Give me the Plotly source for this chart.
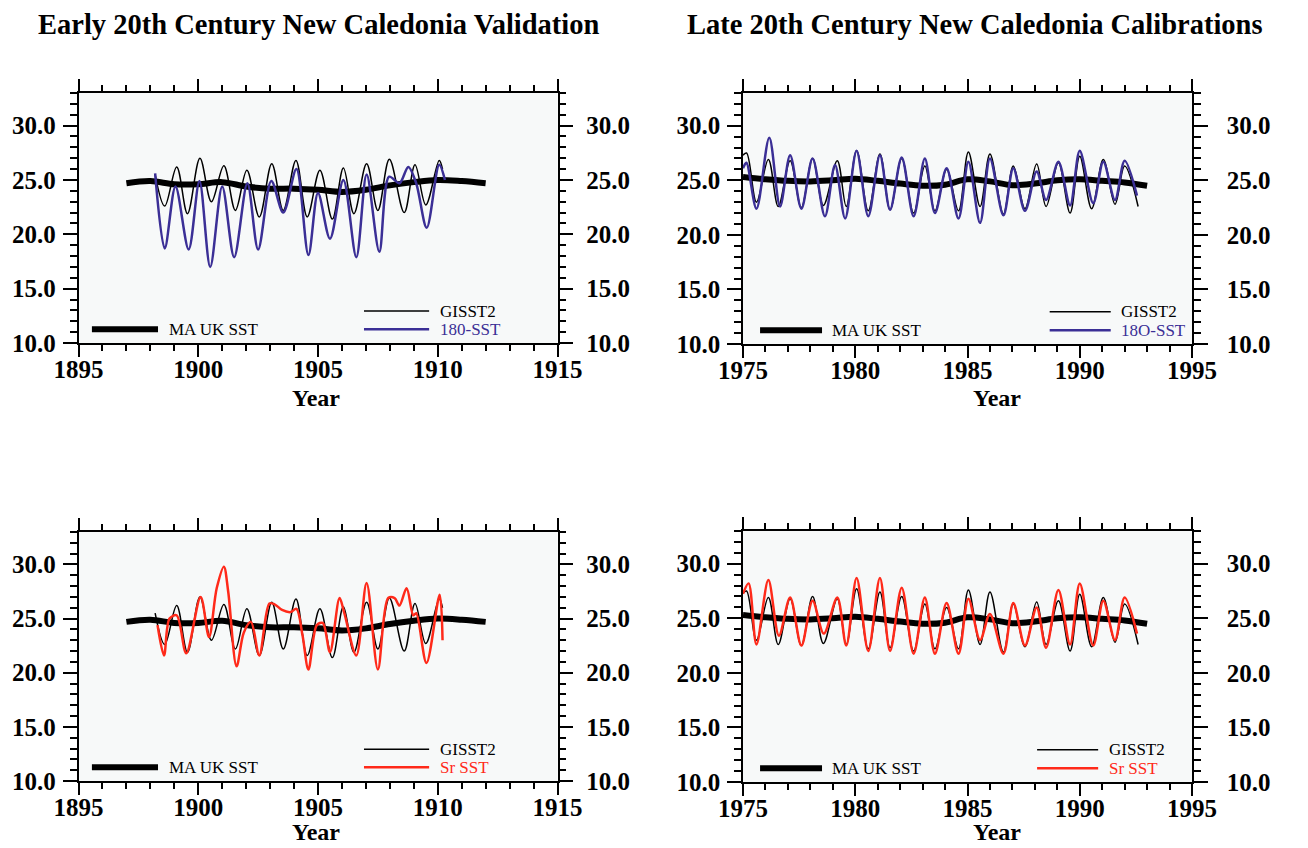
import plotly.graph_objects as go

# ---------------- data ----------------
# Moving-average UK SST (early period)
ma_early_years = [1897, 1898, 1899, 1900, 1901, 1902, 1903, 1904, 1905, 1906, 1907, 1908, 1909, 1910, 1911, 1912]
ma_early = [24.7, 24.9, 24.6, 24.6, 24.8, 24.4, 24.2, 24.2, 24.1, 23.9, 24.1, 24.5, 24.8, 25.0, 24.9, 24.7]

# GISST2 (early period)
gisst_early_years = [1898.2, 1898.6, 1899.1, 1899.55, 1900.07, 1900.55, 1901.07, 1901.55, 1902.03, 1902.55,
                     1903.07, 1903.55, 1904.08, 1904.55, 1905.08, 1905.6, 1906.06, 1906.5, 1907.03, 1907.5,
                     1907.98, 1908.6, 1909.05, 1909.5, 1910.06, 1910.2]
gisst_early = [25.5, 22.6, 26.2, 21.9, 27.0, 23.0, 26.3, 22.2, 25.9, 21.6,
               26.5, 22.2, 26.8, 21.6, 25.9, 21.4, 26.1, 21.9, 26.5, 22.2,
               26.9, 22.0, 26.4, 22.7, 26.8, 26.0]

# 18O-derived SST (early period)
o18_early_years = [1898.2, 1898.6, 1899.05, 1899.6, 1900.05, 1900.5, 1901.0, 1901.5, 1902.05, 1902.5,
                   1903.05, 1903.55, 1904.1, 1904.6, 1905.0, 1905.5, 1906.06, 1906.6, 1907.03, 1907.56,
                   1907.97, 1908.4, 1908.77, 1909.1, 1909.54, 1910.06, 1910.3]
o18_early = [25.6, 18.7, 24.4, 18.6, 24.9, 17.0, 24.4, 17.9, 24.7, 18.6,
             24.9, 22.0, 26.0, 18.1, 23.8, 19.6, 25.0, 17.9, 25.5, 18.4,
             25.3, 24.7, 26.2, 24.7, 20.6, 26.4, 25.0]

# Sr/Ca-derived SST (early period)
sr_early_years = [1898.3, 1898.57, 1898.8, 1899.1, 1899.5, 1900.1, 1900.45, 1900.77, 1901.07, 1901.25,
                  1901.6, 1901.9, 1902.2, 1902.55, 1902.97, 1903.2, 1903.5, 1903.85, 1904.1, 1904.35,
                  1904.6, 1904.95, 1905.2, 1905.5, 1905.9, 1906.1, 1906.6, 1907.03, 1907.5, 1907.93,
                  1908.2, 1908.4, 1908.7, 1908.98, 1909.1, 1909.53, 1910.08, 1910.2]
sr_early = [24.4, 21.6, 25.0, 25.3, 21.8, 27.0, 23.3, 27.8, 29.8, 27.5,
            20.6, 23.7, 24.7, 21.6, 26.4, 26.3, 25.8, 25.6, 25.9, 23.5,
            20.3, 24.4, 24.6, 21.9, 26.9, 25.5, 21.6, 28.3, 20.3, 26.9,
            26.9, 26.2, 27.8, 25.3, 25.5, 20.9, 27.2, 23.0]

# Moving-average UK SST (late period)
ma_late_years = [1975, 1976, 1977, 1978, 1979, 1980, 1981, 1982, 1983, 1984,
                 1985, 1986, 1987, 1988, 1989, 1990, 1991, 1992, 1993]
ma_late = [25.3, 25.1, 24.95, 24.9, 25.0, 25.15, 24.95, 24.7, 24.5, 24.6,
           25.1, 24.9, 24.55, 24.7, 25.0, 25.1, 24.95, 24.8, 24.5]

# GISST2 (late period)
gisst_late_years = [1975.0, 1975.16, 1975.6, 1976.13, 1976.57, 1977.1, 1977.6, 1978.1, 1978.58, 1979.2,
                    1979.6, 1980.06, 1980.58, 1981.1, 1981.55, 1982.07, 1982.6, 1983.1, 1983.55, 1984.07,
                    1984.6, 1985.04, 1985.56, 1986.0, 1986.6, 1987.04, 1987.56, 1988.08, 1988.5, 1989.05,
                    1989.57, 1990.0, 1990.53, 1991.05, 1991.57, 1992.0, 1992.6]
gisst_late = [27.3, 27.5, 23.0, 26.9, 22.6, 26.8, 22.5, 27.0, 22.7, 26.8,
              22.6, 27.7, 22.2, 27.4, 22.3, 27.0, 22.0, 26.3, 22.2, 26.0,
              22.2, 27.6, 22.6, 27.4, 21.9, 26.3, 22.4, 26.5, 22.6, 26.6,
              22.0, 27.2, 22.4, 26.9, 22.8, 26.3, 22.6]

# 18O-derived SST (late period)
o18_late_years = [1975.0, 1975.15, 1975.6, 1976.17, 1976.65, 1977.1, 1977.6, 1978.1, 1978.65, 1979.1,
                  1979.55, 1980.06, 1980.58, 1981.1, 1981.55, 1982.07, 1982.6, 1983.1, 1983.55, 1984.07,
                  1984.6, 1985.04, 1985.56, 1986.0, 1986.6, 1987.04, 1987.56, 1988.08, 1988.5, 1989.05,
                  1989.57, 1990.0, 1990.6, 1991.05, 1991.57, 1992.0, 1992.55]
o18_late = [26.1, 26.6, 22.4, 28.9, 22.6, 27.3, 22.4, 27.0, 21.7, 26.4,
            21.5, 27.7, 21.7, 27.3, 22.3, 27.1, 21.7, 27.0, 22.0, 26.1,
            21.5, 26.7, 21.1, 27.0, 21.8, 26.1, 22.2, 25.8, 23.2, 26.7,
            22.7, 27.7, 22.9, 26.7, 23.2, 26.8, 23.6]

# Sr/Ca-derived SST (late period)
sr_late_years = [1975.0, 1975.25, 1975.6, 1976.13, 1976.6, 1977.1, 1977.6, 1978.1, 1978.6, 1979.2,
                 1979.6, 1980.06, 1980.58, 1981.1, 1981.55, 1982.07, 1982.6, 1983.1, 1983.55, 1984.07,
                 1984.6, 1985.04, 1985.56, 1986.0, 1986.6, 1987.04, 1987.56, 1988.08, 1988.5, 1989.05,
                 1989.57, 1990.0, 1990.6, 1991.05, 1991.57, 1992.0, 1992.55]
sr_late = [27.25, 28.2, 22.6, 28.5, 23.4, 26.9, 22.5, 26.6, 23.6, 26.9,
           22.5, 28.7, 22.0, 28.7, 22.0, 27.8, 21.75, 26.9, 21.75, 26.4,
           21.75, 26.8, 23.0, 25.4, 21.75, 26.4, 22.5, 26.0, 22.3, 27.6,
           22.6, 28.2, 22.5, 26.6, 23.0, 26.9, 23.6]

# axis tick values
early_xticks = [1895, 1900, 1905, 1910, 1915]
late_xticks = [1975, 1980, 1985, 1990, 1995]
y_ticks = [10, 15, 20, 25, 30]

titles = ["Early 20th Century New Caledonia Validation", "Late 20th Century New Caledonia Calibrations"]

# ---------------- styling ----------------
W, H = 1308, 848
SERIF = "Liberation Serif"
BLUE = "#3b2f96"
RED = "#ff2a1a"
PLOT_BG = "#f7f9f9"


def px_x(p):
    return p / W


def px_y(p):
    return 1 - p / H


panels = [
    dict(x="x", y="y", yr="y5", xr=[1895, 1915], ticks=early_xticks, xp=(78.5, 557.5), yp=(93, 343),
         proxy=("180-SST", o18_early_years, o18_early, BLUE), gx=0.596, rstand=8,
         g=(gisst_early_years, gisst_early), ma=(ma_early_years, ma_early)),
    dict(x="x2", y="y2", yr="y6", xr=[1975, 1995], ticks=late_xticks, xp=(743, 1192), yp=(93, 344),
         proxy=("18O-SST", o18_late_years, o18_late, BLUE), gx=0.683, rstand=14,
         g=(gisst_late_years, gisst_late), ma=(ma_late_years, ma_late)),
    dict(x="x3", y="y3", yr="y7", xr=[1895, 1915], ticks=early_xticks, xp=(78.5, 557.5), yp=(532, 781),
         proxy=("Sr SST", sr_early_years, sr_early, RED), gx=0.596, rstand=8,
         g=(gisst_early_years, gisst_early), ma=(ma_early_years, ma_early)),
    dict(x="x4", y="y4", yr="y8", xr=[1975, 1995], ticks=late_xticks, xp=(743, 1192), yp=(531, 782),
         proxy=("Sr SST", sr_late_years, sr_late, RED), gx=0.655, rstand=14,
         g=(gisst_late_years, gisst_late), ma=(ma_late_years, ma_late)),
]

fig = go.Figure()
layout = dict(width=W, height=H, margin=dict(l=0, r=0, t=0, b=0, autoexpand=False), autosize=False,
              paper_bgcolor="white", plot_bgcolor=PLOT_BG, showlegend=False,
              font=dict(family=SERIF, color="black"))

tickfont = dict(family=SERIF, size=25, color="black", weight="bold")
shapes = []
annotations = []

for i, p in enumerate(panels):
    xa = "xaxis" + p["x"][1:]
    ya = "yaxis" + p["y"][1:]
    yra = "yaxis" + p["yr"][1:]
    xdom = [px_x(p["xp"][0]), px_x(p["xp"][1])]
    ydom = [px_y(p["yp"][1]), px_y(p["yp"][0])]
    layout[xa] = dict(domain=xdom, anchor=p["y"], range=p["xr"], tickvals=p["ticks"],
                      ticktext=[str(t) for t in p["ticks"]], tickfont=tickfont,
                      ticks="outside", ticklen=12, tickwidth=1.5, tickcolor="black",
                      ticklabelstandoff=-9,
                      minor=dict(dtick=1, tick0=p["xr"][0], ticks="outside", ticklen=6,
                                 tickwidth=1.5, tickcolor="black", showgrid=False),
                      showline=True, linecolor="black", linewidth=1.5, mirror="ticks",
                      showgrid=False, zeroline=False, fixedrange=True, automargin=False)
    layout[ya] = dict(domain=ydom, anchor=p["x"], range=[10, 33], tickvals=y_ticks,
                      tickformat=".1f", tickfont=tickfont,
                      ticks="outside", ticklen=14, tickwidth=1.5, tickcolor="black",
                      ticklabelstandoff=2,
                      minor=dict(dtick=1, tick0=10, ticks="outside", ticklen=7,
                                 tickwidth=1.5, tickcolor="black", showgrid=False),
                      showline=True, linecolor="black", linewidth=1.5, mirror=False,
                      showgrid=False, zeroline=False, fixedrange=True, automargin=False)
    layout[yra] = dict(overlaying=p["y"], anchor=p["x"], side="right", range=[10, 33],
                       matches=p["y"],
                       tickvals=y_ticks, tickformat=".1f", tickfont=tickfont,
                       ticks="outside", ticklen=14, tickwidth=1.5, tickcolor="black",
                       ticklabelstandoff=p["rstand"],
                       minor=dict(dtick=1, tick0=10, ticks="outside", ticklen=7,
                                  tickwidth=1.5, tickcolor="black", showgrid=False),
                       showline=True, linecolor="black", linewidth=1.5,
                       showgrid=False, zeroline=False, fixedrange=True, automargin=False)

    # traces
    fig.add_trace(go.Scatter(x=p["ma"][0], y=p["ma"][1], mode="lines", xaxis=p["x"], yaxis=p["y"],
                             line=dict(color="black", width=6, shape="spline"), name="MA UK SST"))
    fig.add_trace(go.Scatter(x=p["g"][0], y=p["g"][1], mode="lines", xaxis=p["x"], yaxis=p["y"],
                             line=dict(color="black", width=1.5, shape="spline", smoothing=1.0),
                             name="GISST2"))
    name, px_, py_, col = p["proxy"]
    # proxy drawn on the right-hand axis (same scale as the left one)
    fig.add_trace(go.Scatter(x=px_, y=py_, mode="lines", xaxis=p["x"], yaxis=p["yr"],
                             line=dict(color=col, width=2.5, shape="spline", smoothing=0.9), name=name))

    # in-panel legend
    xr_ = p["x"] + " domain"
    yr_ = p["y"] + " domain"
    lx = 0.028 if i % 2 == 0 else 0.038
    shapes.append(dict(type="line", xref=xr_, yref=yr_, x0=lx, x1=lx + 0.138, y0=0.055, y1=0.055,
                       line=dict(color="black", width=6)))
    annotations.append(dict(xref=xr_, yref=yr_, x=lx + 0.156, y=0.055, text="MA UK SST",
                            showarrow=False, xanchor="left", yanchor="middle",
                            font=dict(family=SERIF, size=17, color="black")))
    gx = p["gx"]
    shapes.append(dict(type="line", xref=xr_, yref=yr_, x0=gx, x1=gx + 0.136, y0=0.128, y1=0.128,
                       line=dict(color="black", width=1.5)))
    shapes.append(dict(type="line", xref=xr_, yref=yr_, x0=gx, x1=gx + 0.136, y0=0.055, y1=0.055,
                       line=dict(color=col, width=2.5)))
    annotations.append(dict(xref=xr_, yref=yr_, x=gx + 0.155, y=0.128, text="GISST2",
                            showarrow=False, xanchor="left", yanchor="middle",
                            font=dict(family=SERIF, size=17, color="black")))
    annotations.append(dict(xref=xr_, yref=yr_, x=gx + 0.155, y=0.055, text=name,
                            showarrow=False, xanchor="left", yanchor="middle",
                            font=dict(family=SERIF, size=17, color=col)))

    # "Year" axis label
    ycen = 398 if i < 2 else 832
    xcen = 316 if i % 2 == 0 else 997
    annotations.append(dict(xref="paper", yref="paper", x=px_x(xcen), y=px_y(ycen), text="Year",
                            showarrow=False, xanchor="center", yanchor="middle",
                            font=dict(family=SERIF, size=24, color="black", weight="bold")))

# titles
annotations.append(dict(xref="paper", yref="paper", x=px_x(318), y=px_y(25), text=titles[0],
                        showarrow=False, xanchor="center", yanchor="middle",
                        font=dict(family=SERIF, size=28.5, color="black", weight="bold")))
annotations.append(dict(xref="paper", yref="paper", x=px_x(975), y=px_y(25), text=titles[1],
                        showarrow=False, xanchor="center", yanchor="middle",
                        font=dict(family=SERIF, size=28.5, color="black", weight="bold")))

layout["shapes"] = shapes
layout["annotations"] = annotations
fig.update_layout(**layout)
fig.write_html("out.html")
